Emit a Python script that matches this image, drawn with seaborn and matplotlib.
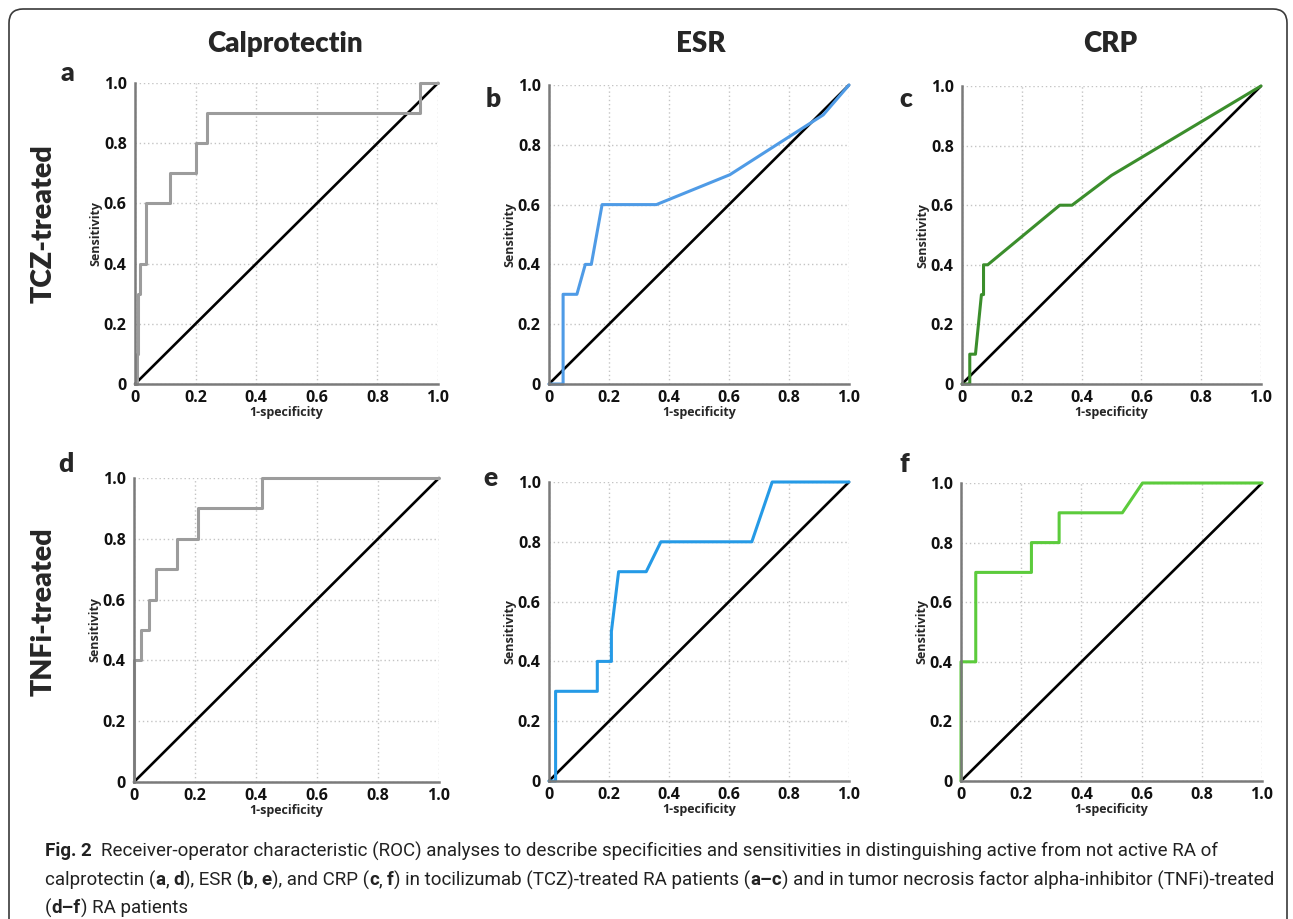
import numpy as np
import pandas as pd
import matplotlib
matplotlib.use("Agg")
import matplotlib.pyplot as plt
from matplotlib.patches import FancyBboxPatch
import seaborn as sns

# ROC curves (x = 1-specificity, y = sensitivity)
calp_tcz_x = [0, 0.005, 0.005, 0.011, 0.011, 0.016, 0.016, 0.035, 0.035, 0.115, 0.115,
              0.20, 0.20, 0.236, 0.236, 0.94, 0.94, 1.0]
calp_tcz_y = [0, 0, 0.1, 0.1, 0.3, 0.3, 0.4, 0.4, 0.6, 0.6, 0.7, 0.7, 0.8, 0.8, 0.9, 0.9, 1.0, 1.0]

esr_tcz_x = [0, 0.047, 0.047, 0.093, 0.121, 0.141, 0.177, 0.358, 0.603, 0.914, 1.0]
esr_tcz_y = [0, 0, 0.3, 0.3, 0.4, 0.4, 0.6, 0.6, 0.7, 0.9, 1.0]

crp_tcz_x = [0, 0.026, 0.026, 0.045, 0.065, 0.072, 0.072, 0.086, 0.327, 0.368, 0.5, 1.0]
crp_tcz_y = [0, 0, 0.1, 0.1, 0.3, 0.3, 0.4, 0.4, 0.6, 0.6, 0.7, 1.0]

calp_tnf_x = [0, 0, 0.024, 0.024, 0.048, 0.048, 0.071, 0.071, 0.141, 0.141, 0.21, 0.21,
              0.42, 0.42, 1.0]
calp_tnf_y = [0, 0.4, 0.4, 0.5, 0.5, 0.6, 0.6, 0.7, 0.7, 0.8, 0.8, 0.9, 0.9, 1.0, 1.0]

esr_tnf_x = [0, 0.022, 0.022, 0.161, 0.161, 0.208, 0.208, 0.232, 0.324, 0.373, 0.676, 0.744, 1.0]
esr_tnf_y = [0, 0, 0.3, 0.3, 0.4, 0.4, 0.5, 0.7, 0.7, 0.8, 0.8, 1.0, 1.0]

crp_tnf_x = [0, 0, 0.049, 0.049, 0.234, 0.234, 0.326, 0.326, 0.536, 0.603, 1.0]
crp_tnf_y = [0, 0.4, 0.4, 0.7, 0.7, 0.8, 0.8, 0.9, 0.9, 1.0, 1.0]

chance = [0.0, 1.0]
ticks = [0, 0.2, 0.4, 0.6, 0.8, 1.0]
tick_labels = ["0", "0.2", "0.4", "0.6", "0.8", "1.0"]
columns = ["Calprotectin", "ESR", "CRP"]
rows = ["TCZ-treated", "TNFi-treated"]
letters = ["a", "b", "c", "d", "e", "f"]

W, H = 1293, 919
sns.set_style("white")
plt.rcParams["font.family"] = ["Open Sans", "DejaVu Sans"]

fig = plt.figure(figsize=(W / 100, H / 100), dpi=100)

def px_axes(l, r, t, b):
    return fig.add_axes([l / W, 1 - b / H, (r - l) / W, (b - t) / H])

panels = [
    (calp_tcz_x, calp_tcz_y, "#9c9c9c", (135, 438, 83, 384)),
    (esr_tcz_x, esr_tcz_y, "#4f9be6", (549, 849, 85, 384)),
    (crp_tcz_x, crp_tcz_y, "#3b8e2c", (962, 1261, 86, 384)),
    (calp_tnf_x, calp_tnf_y, "#9c9c9c", (134, 439, 478, 782)),
    (esr_tnf_x, esr_tnf_y, "#259ae6", (549, 849, 482, 781)),
    (crp_tnf_x, crp_tnf_y, "#5ccb3c", (961, 1262, 483, 781)),
]

for xs, ys, col, box in panels:
    ax = px_axes(*box)
    df = pd.DataFrame({"fpr": xs, "tpr": ys})
    sns.lineplot(x=chance, y=chance, color="black", lw=1.9, ax=ax, clip_on=False)
    sns.lineplot(data=df, x="fpr", y="tpr", sort=False, estimator=None,
                 color=col, lw=2.2, ax=ax, clip_on=False)
    ax.set_xlim(0, 1)
    ax.set_ylim(0, 1)
    ax.set_xticks(ticks)
    ax.set_yticks(ticks)
    ax.set_xticklabels(tick_labels, fontsize=11.5, fontweight="bold")
    ax.set_yticklabels(tick_labels, fontsize=11.5, fontweight="bold")
    ax.grid(True, ls=(0, (1, 2)), color="#c4c4c4", lw=1)
    for s in ["top", "right"]:
        ax.spines[s].set_visible(False)
    for s in ["left", "bottom"]:
        ax.spines[s].set_color("#7a7a7a")
        ax.spines[s].set_linewidth(1.8)
    ax.tick_params(axis="both", direction="out", length=3, width=1, color="#9a9a9a",
                   labelcolor="#111111")
    ax.tick_params(axis="x", pad=1.5)
    ax.tick_params(axis="y", pad=3)
    ax.set_xlabel("1-specificity", fontsize=9, fontweight="bold", labelpad=0)
    ax.set_ylabel("Sensitivity", fontsize=9, fontweight="bold", labelpad=1)

title_font = ["Lato", "DejaVu Sans"]
for name, cx in zip(columns, [285, 701, 1110]):
    fig.text(cx / W, 1 - 44 / H, name, ha="center", va="center", fontsize=20,
             fontweight="heavy", family=title_font)
for name, cy in zip(rows, [224, 612]):
    fig.text(44 / W, 1 - cy / H, name, ha="center", va="center", rotation=90,
             fontsize=20.5, fontweight="heavy", family=title_font)
for let, (lx, ly) in zip(letters, [(67, 81), (493, 107), (906, 107),
                                     (66, 472), (490, 486), (904, 472)]):
    fig.text(lx / W, 1 - ly / H, let, ha="center", va="baseline", fontsize=19,
             fontweight="heavy", family=title_font)

# rounded frame around the whole figure
fig.add_artist(FancyBboxPatch((9, -40), 1278, H - 9 + 40, boxstyle="round,pad=0,rounding_size=14",
                              transform=None, fc="none", ec="#3a3a3a", lw=1.2))

# caption with bold fragments
cap_font = ["Liberation Sans Narrow", "Roboto", "DejaVu Sans"]
cap_lines = [
    [("Fig. 2", True), ("  Receiver-operator characteristic (ROC) analyses to describe specificities and sensitivities in distinguishing active from not active RA of", False)],
    [("calprotectin (", False), ("a", True), (", ", False), ("d", True), ("), ESR (", False),
     ("b", True), (", ", False), ("e", True), ("), and CRP (", False), ("c", True), (", ", False),
     ("f", True), (") in tocilizumab (TCZ)-treated RA patients (", False), ("a\u2013c", True),
     (") and in tumor necrosis factor alpha-inhibitor (TNFi)-treated", False)],
    [("(", False), ("d\u2013f", True), (") RA patients", False)],
]
cap_y = [851, 880, 908]
renderer = fig.canvas.get_renderer()

def text_w(s, size, bold):
    t = fig.text(0, 0, s, fontsize=size, fontweight="bold" if bold else "normal", family=cap_font)
    w = t.get_window_extent(renderer=renderer).width
    t.remove()
    return w

def seg_w(s, size, bold):
    sp = text_w("x x", size, bold) - text_w("xx", size, bold)
    core = s.strip(" ")
    n_sp = len(s) - len(s.lstrip(" ")) + len(s) - len(s.rstrip(" "))
    return (text_w(core, size, bold) if core else 0) + n_sp * sp

base = 10
w2 = sum(seg_w(s, base, b) for s, b in cap_lines[1])
cap_size = base * 1233 / w2

for parts, yy in zip(cap_lines, cap_y):
    x = 45
    for s, b in parts:
        lead = len(s) - len(s.lstrip(" "))
        sp = text_w("x x", cap_size, b) - text_w("xx", cap_size, b)
        core = s.strip(" ")
        if core:
            fig.text((x + lead * sp) / W, 1 - yy / H, core, fontsize=cap_size,
                     fontweight="bold" if b else "normal", family=cap_font,
                     va="center", ha="left", color="#222222")
        x += seg_w(s, cap_size, b)

fig.savefig("out.png", dpi=100)
